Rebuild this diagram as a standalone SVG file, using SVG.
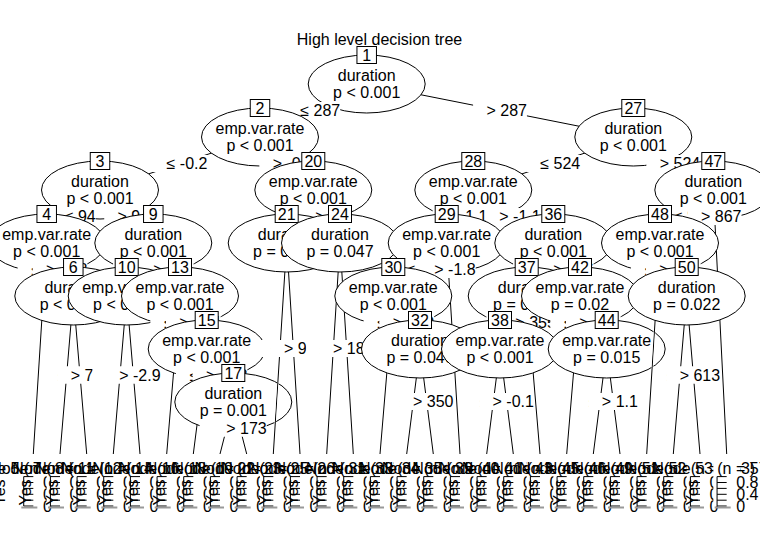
<svg xmlns="http://www.w3.org/2000/svg" xmlns:xlink="http://www.w3.org/1999/xlink" width="760" height="553" viewBox="0 0 760 553">
<style>
text{font-family:"Liberation Sans",Arial,Helvetica,sans-serif;font-size:16px;text-anchor:middle;fill:#000}
.inner ellipse{fill:#fff;stroke:#000;stroke-width:1}
.inner rect{fill:#fff;stroke:#000;stroke-width:1}
#connectors line{stroke:#000;stroke-width:1}
.lab rect{fill:#fff;stroke:none}
.lab text{text-anchor:end}
.rt{text-anchor:start}
.pbg{fill:#fff;stroke:none}
.tk{fill:none;stroke:#000;stroke-width:1}
.gb{fill:none;stroke:#999;stroke-width:2}
.ax{text-anchor:start}
.cut{stroke:#000;stroke-width:1.6}
</style>
<defs>
<g id="panel">
<rect class="pbg" x="-13.33" y="457.4" width="26.67" height="48.6"/>
<path class="tk" d="M-9.6,476.6V506M-9.6,476.6H0M-9.6,482.5H0M-9.6,488.4H0M-9.6,494.3H0M-9.6,500.2H0M-9.6,506H0"/>
<path class="gb" d="M-12,507.5H4"/>
<text class="ax" x="9.6" y="488.2">0.8</text>
<text class="ax" x="9.6" y="500">0.4</text>
<text class="ax" x="9.6" y="511.7">0</text>
<text class="rt" transform="translate(-28.7,505.5) rotate(-90)">Yes</text>
</g>
<mask id="m17" maskUnits="userSpaceOnUse" x="0" y="0" width="760" height="553"><rect width="760" height="553" fill="#fff"/><line class="cut" x1="286.7" y1="243" x2="273.3" y2="454"/></mask>
<mask id="m44" maskUnits="userSpaceOnUse" x="0" y="0" width="760" height="553"><rect width="760" height="553" fill="#fff"/><line class="cut" x1="660" y1="243" x2="646.7" y2="454"/></mask>
</defs>
<rect width="760" height="553" fill="#fff"/>
<text id="title" x="379.5" y="45">High level decision tree</text>
<g id="connectors">
<line x1="366.7" y1="84" x2="260" y2="137"/>
<line x1="366.7" y1="84" x2="633.3" y2="137"/>
<line x1="260" y1="137" x2="100" y2="190"/>
<line x1="260" y1="137" x2="313.3" y2="190"/>
<line x1="100" y1="190" x2="46.7" y2="243"/>
<line x1="100" y1="190" x2="153.3" y2="243"/>
<line x1="46.7" y1="243" x2="33.3" y2="454"/>
<line x1="46.7" y1="243" x2="73.3" y2="296"/>
<line x1="73.3" y1="296" x2="60" y2="454"/>
<line x1="73.3" y1="296" x2="86.7" y2="454"/>
<line x1="153.3" y1="243" x2="126.7" y2="296"/>
<line x1="153.3" y1="243" x2="180" y2="296"/>
<line x1="126.7" y1="296" x2="113.3" y2="454"/>
<line x1="126.7" y1="296" x2="140" y2="454"/>
<line x1="180" y1="296" x2="166.7" y2="454"/>
<line x1="180" y1="296" x2="206.7" y2="349"/>
<line x1="206.7" y1="349" x2="193.3" y2="454"/>
<line x1="206.7" y1="349" x2="233.3" y2="402"/>
<line x1="233.3" y1="402" x2="220" y2="454"/>
<line x1="233.3" y1="402" x2="246.7" y2="454"/>
<line x1="313.3" y1="190" x2="286.7" y2="243"/>
<line x1="313.3" y1="190" x2="340" y2="243"/>
<line x1="286.7" y1="243" x2="273.3" y2="454"/>
<line x1="286.7" y1="243" x2="300" y2="454"/>
<line x1="340" y1="243" x2="326.7" y2="454"/>
<line x1="340" y1="243" x2="353.3" y2="454"/>
<line x1="633.3" y1="137" x2="473.3" y2="190"/>
<line x1="633.3" y1="137" x2="713.3" y2="190"/>
<line x1="473.3" y1="190" x2="446.7" y2="243"/>
<line x1="473.3" y1="190" x2="553.3" y2="243"/>
<line x1="446.7" y1="243" x2="393.3" y2="296"/>
<line x1="446.7" y1="243" x2="460" y2="454"/>
<line x1="393.3" y1="296" x2="380" y2="454"/>
<line x1="393.3" y1="296" x2="420" y2="349"/>
<line x1="420" y1="349" x2="406.7" y2="454"/>
<line x1="420" y1="349" x2="433.3" y2="454"/>
<line x1="553.3" y1="243" x2="526.7" y2="296"/>
<line x1="553.3" y1="243" x2="580" y2="296"/>
<line x1="526.7" y1="296" x2="500" y2="349"/>
<line x1="526.7" y1="296" x2="540" y2="454"/>
<line x1="500" y1="349" x2="486.7" y2="454"/>
<line x1="500" y1="349" x2="513.3" y2="454"/>
<line x1="580" y1="296" x2="566.7" y2="454"/>
<line x1="580" y1="296" x2="606.7" y2="349"/>
<line x1="606.7" y1="349" x2="593.3" y2="454"/>
<line x1="606.7" y1="349" x2="620" y2="454"/>
<line x1="713.3" y1="190" x2="660" y2="243"/>
<line x1="713.3" y1="190" x2="726.7" y2="454"/>
<line x1="660" y1="243" x2="646.7" y2="454"/>
<line x1="660" y1="243" x2="686.7" y2="296"/>
<line x1="686.7" y1="296" x2="673.3" y2="454"/>
<line x1="686.7" y1="296" x2="700" y2="454"/>
</g>

<g id="node1" class="inner"><ellipse cx="366.7" cy="84" rx="58.5" ry="29"/><text x="366.7" y="81">duration</text><text x="366.7" y="97.5">p &lt; 0.001</text><rect x="356.95" y="46.5" width="19.5" height="17"/><text x="366.7" y="60.7">1</text></g>
<g class="lab"><rect x="286.38" y="102" width="53.85" height="17"/><text x="340.23" y="116">≤ 287</text></g>
<g class="lab"><rect x="473.08" y="102" width="53.85" height="17"/><text x="526.93" y="116">&gt; 287</text></g>
<g id="node2" class="inner"><ellipse cx="260" cy="137" rx="58.5" ry="29"/><text x="260" y="134">emp.var.rate</text><text x="260" y="150.5">p &lt; 0.001</text><rect x="250.25" y="99.5" width="19.5" height="17"/><text x="260" y="113.7">2</text></g>
<g class="lab"><rect x="152.63" y="155" width="54.75" height="17"/><text x="207.38" y="169">≤ -0.2</text></g>
<g class="lab"><rect x="259.33" y="155" width="54.75" height="17"/><text x="314.08" y="169">&gt; -0.2</text></g>
<g id="node3" class="inner"><ellipse cx="100" cy="190" rx="58.5" ry="29"/><text x="100" y="187">duration</text><text x="100" y="203.5">p &lt; 0.001</text><rect x="90.25" y="152.5" width="19.5" height="17"/><text x="100" y="166.7">3</text></g>
<g class="lab"><rect x="50.83" y="208" width="44.95" height="17"/><text x="95.78" y="222">≤ 94</text></g>
<g class="lab"><rect x="104.23" y="208" width="44.95" height="17"/><text x="149.18" y="222">&gt; 94</text></g>
<g id="node4" class="inner"><ellipse cx="46.7" cy="243" rx="58.5" ry="29"/><text x="46.7" y="240">emp.var.rate</text><text x="46.7" y="256.5">p &lt; 0.001</text><rect x="36.95" y="205.5" width="19.5" height="17"/><text x="46.7" y="219.7">4</text></g>
<g class="lab"><rect x="17.63" y="261" width="54.75" height="17"/><text x="72.38" y="275">≤ -1.8</text></g>
<g class="lab"><rect x="32.63" y="261" width="54.75" height="17"/><text x="87.38" y="275">&gt; -1.8</text></g>
<g id="node5" class="leaf"><use xlink:href="#panel" x="33.33"/><text x="23.73" y="474">Node 5 (n = 97)</text></g>
<g id="node6" class="inner"><ellipse cx="73.3" cy="296" rx="58.5" ry="29"/><text x="73.3" y="293">duration</text><text x="73.3" y="309.5">p &lt; 0.001</text><rect x="63.55" y="258.5" width="19.5" height="17"/><text x="73.3" y="272.7">6</text></g>
<g class="lab"><rect x="44.03" y="366.5" width="44.95" height="17"/><text x="88.98" y="380.5">≤ 76</text></g>
<g class="lab"><rect x="57.33" y="366.5" width="44.95" height="17"/><text x="102.28" y="380.5">&gt; 76</text></g>
<g id="node7" class="leaf"><use xlink:href="#panel" x="60"/><text x="50.4" y="474">Node 7 (n = 396)</text></g>
<g id="node8" class="leaf"><use xlink:href="#panel" x="86.67"/><text x="77.07" y="474">Node 8 (n = 1210)</text></g>
<g id="node9" class="inner"><ellipse cx="153.3" cy="243" rx="58.5" ry="29"/><text x="153.3" y="240">duration</text><text x="153.3" y="256.5">p &lt; 0.001</text><rect x="143.55" y="205.5" width="19.5" height="17"/><text x="153.3" y="219.7">9</text></g>
<g class="lab"><rect x="113.08" y="261" width="53.85" height="17"/><text x="166.93" y="275">≤ 141</text></g>
<g class="lab"><rect x="139.78" y="261" width="53.85" height="17"/><text x="193.63" y="275">&gt; 141</text></g>
<g id="node10" class="inner"><ellipse cx="126.7" cy="296" rx="58.5" ry="29"/><text x="126.7" y="293">emp.var.rate</text><text x="126.7" y="309.5">p &lt; 0.001</text><rect x="115.2" y="258.5" width="23" height="17"/><text x="126.7" y="272.7">10</text></g>
<g class="lab"><rect x="92.53" y="366.5" width="54.75" height="17"/><text x="147.28" y="380.5">≤ -2.9</text></g>
<g class="lab"><rect x="105.83" y="366.5" width="54.75" height="17"/><text x="160.58" y="380.5">&gt; -2.9</text></g>
<g id="node11" class="leaf"><use xlink:href="#panel" x="113.33"/><text x="103.73" y="474">Node 11 (n = 1562)</text></g>
<g id="node12" class="leaf"><use xlink:href="#panel" x="140"/><text x="130.4" y="474">Node 12 (n = 2010)</text></g>
<g id="node13" class="inner"><ellipse cx="180" cy="296" rx="58.5" ry="29"/><text x="180" y="293">emp.var.rate</text><text x="180" y="309.5">p &lt; 0.001</text><rect x="168.5" y="258.5" width="23" height="17"/><text x="180" y="272.7">13</text></g>
<g class="lab"><rect x="150.33" y="314" width="54.75" height="17"/><text x="205.08" y="328">≤ -3.4</text></g>
<g class="lab"><rect x="165.93" y="314" width="54.75" height="17"/><text x="220.68" y="328">&gt; -3.4</text></g>
<g id="node14" class="leaf"><use xlink:href="#panel" x="166.67"/><text x="157.07" y="474">Node 14 (n = 689)</text></g>
<g id="node15" class="inner"><ellipse cx="206.7" cy="349" rx="58.5" ry="29"/><text x="206.7" y="346">emp.var.rate</text><text x="206.7" y="362.5">p &lt; 0.001</text><rect x="195.2" y="311.5" width="23" height="17"/><text x="206.7" y="325.7">15</text></g>
<g class="lab"><rect x="175.83" y="367" width="54.75" height="17"/><text x="230.58" y="381">≤ -1.8</text></g>
<g class="lab"><rect x="192.63" y="367" width="54.75" height="17"/><text x="247.38" y="381">&gt; -1.8</text></g>
<g id="node16" class="leaf"><use xlink:href="#panel" x="193.33"/><text x="183.73" y="474">Node 16 (n = 431)</text></g>
<g id="node17" class="inner"><ellipse cx="233.3" cy="402" rx="58.5" ry="29" mask="url(#m17)"/><text x="233.3" y="399">duration</text><text x="233.3" y="415.5">p = 0.001</text><rect x="221.8" y="364.5" width="23" height="17"/><text x="233.3" y="378.7">17</text></g>
<g class="lab"><rect x="199.58" y="419.5" width="53.85" height="17"/><text x="253.43" y="433.5">≤ 173</text></g>
<g class="lab"><rect x="212.88" y="419.5" width="53.85" height="17"/><text x="266.73" y="433.5">&gt; 173</text></g>
<g id="node18" class="leaf"><use xlink:href="#panel" x="220"/><text x="210.4" y="474">Node 18 (n = 255)</text></g>
<g id="node19" class="leaf"><use xlink:href="#panel" x="246.67"/><text x="237.07" y="474">Node 19 (n = 547)</text></g>
<g id="node20" class="inner"><ellipse cx="313.3" cy="190" rx="58.5" ry="29"/><text x="313.3" y="187">emp.var.rate</text><text x="313.3" y="203.5">p &lt; 0.001</text><rect x="301.8" y="152.5" width="23" height="17"/><text x="313.3" y="166.7">20</text></g>
<g class="lab"><rect x="275.33" y="208" width="49.35" height="17"/><text x="324.68" y="222">≤ 1.1</text></g>
<g class="lab"><rect x="302.03" y="208" width="49.35" height="17"/><text x="351.38" y="222">&gt; 1.1</text></g>
<g id="node21" class="inner"><ellipse cx="286.7" cy="243" rx="58.5" ry="29"/><text x="286.7" y="240">duration</text><text x="286.7" y="256.5">p = 0.007</text><rect x="275.2" y="205.5" width="23" height="17"/><text x="286.7" y="219.7">21</text></g>
<g class="lab"><rect x="257.43" y="340" width="44.95" height="17"/><text x="302.38" y="354">≤ 96</text></g>
<g class="lab"><rect x="270.73" y="340" width="44.95" height="17"/><text x="315.68" y="354">&gt; 96</text></g>
<g id="node22" class="leaf"><use xlink:href="#panel" x="273.33"/><text x="263.73" y="474">Node 22 (n = 2305)</text></g>
<g id="node23" class="leaf"><use xlink:href="#panel" x="300"/><text x="290.4" y="474">Node 23 (n = 3467)</text></g>
<g id="node24" class="inner"><ellipse cx="340" cy="243" rx="58.5" ry="29"/><text x="340" y="240">duration</text><text x="340" y="256.5">p = 0.047</text><rect x="328.5" y="205.5" width="23" height="17"/><text x="340" y="219.7">24</text></g>
<g class="lab"><rect x="306.28" y="340" width="53.85" height="17"/><text x="360.13" y="354">≤ 183</text></g>
<g class="lab"><rect x="319.58" y="340" width="53.85" height="17"/><text x="373.43" y="354">&gt; 183</text></g>
<g id="node25" class="leaf"><use xlink:href="#panel" x="326.67"/><text x="317.07" y="474">Node 25 (n = 1789)</text></g>
<g id="node26" class="leaf"><use xlink:href="#panel" x="353.33"/><text x="343.73" y="474">Node 26 (n = 1014)</text></g>
<g id="node27" class="inner"><ellipse cx="633.3" cy="137" rx="58.5" ry="29"/><text x="633.3" y="134">duration</text><text x="633.3" y="150.5">p &lt; 0.001</text><rect x="621.8" y="99.5" width="23" height="17"/><text x="633.3" y="113.7">27</text></g>
<g class="lab"><rect x="526.38" y="155" width="53.85" height="17"/><text x="580.23" y="169">≤ 524</text></g>
<g class="lab"><rect x="646.38" y="155" width="53.85" height="17"/><text x="700.23" y="169">&gt; 524</text></g>
<g id="node28" class="inner"><ellipse cx="473.3" cy="190" rx="58.5" ry="29"/><text x="473.3" y="187">emp.var.rate</text><text x="473.3" y="203.5">p &lt; 0.001</text><rect x="461.8" y="152.5" width="23" height="17"/><text x="473.3" y="166.7">28</text></g>
<g class="lab"><rect x="432.63" y="208" width="54.75" height="17"/><text x="487.38" y="222">≤ -1.1</text></g>
<g class="lab"><rect x="485.93" y="208" width="54.75" height="17"/><text x="540.68" y="222">&gt; -1.1</text></g>
<g id="node29" class="inner"><ellipse cx="446.7" cy="243" rx="58.5" ry="29"/><text x="446.7" y="240">emp.var.rate</text><text x="446.7" y="256.5">p &lt; 0.001</text><rect x="435.2" y="205.5" width="23" height="17"/><text x="446.7" y="219.7">29</text></g>
<g class="lab"><rect x="392.63" y="261" width="54.75" height="17"/><text x="447.38" y="275">≤ -1.8</text></g>
<g class="lab"><rect x="420.93" y="261" width="54.75" height="17"/><text x="475.68" y="275">&gt; -1.8</text></g>
<g id="node30" class="inner"><ellipse cx="393.3" cy="296" rx="58.5" ry="29"/><text x="393.3" y="293">emp.var.rate</text><text x="393.3" y="309.5">p &lt; 0.001</text><rect x="381.8" y="258.5" width="23" height="17"/><text x="393.3" y="272.7">30</text></g>
<g class="lab"><rect x="363.63" y="314" width="54.75" height="17"/><text x="418.38" y="328">≤ -2.9</text></g>
<g class="lab"><rect x="379.33" y="314" width="54.75" height="17"/><text x="434.08" y="328">&gt; -2.9</text></g>
<g id="node31" class="leaf"><use xlink:href="#panel" x="380"/><text x="370.4" y="474">Node 31 (n = 321)</text></g>
<g id="node32" class="inner"><ellipse cx="420" cy="349" rx="58.5" ry="29"/><text x="420" y="346">duration</text><text x="420" y="362.5">p = 0.046</text><rect x="408.5" y="311.5" width="23" height="17"/><text x="420" y="325.7">32</text></g>
<g class="lab"><rect x="386.28" y="393" width="53.85" height="17"/><text x="440.13" y="407">≤ 350</text></g>
<g class="lab"><rect x="399.58" y="393" width="53.85" height="17"/><text x="453.43" y="407">&gt; 350</text></g>
<g id="node33" class="leaf"><use xlink:href="#panel" x="406.67"/><text x="397.07" y="474">Node 33 (n = 108)</text></g>
<g id="node34" class="leaf"><use xlink:href="#panel" x="433.33"/><text x="423.73" y="474">Node 34 (n = 152)</text></g>
<g id="node35" class="leaf"><use xlink:href="#panel" x="460"/><text x="450.4" y="474">Node 35 (n = 1187)</text></g>
<g id="node36" class="inner"><ellipse cx="553.3" cy="243" rx="58.5" ry="29"/><text x="553.3" y="240">duration</text><text x="553.3" y="256.5">p &lt; 0.001</text><rect x="541.8" y="205.5" width="23" height="17"/><text x="553.3" y="219.7">36</text></g>
<g class="lab"><rect x="513.08" y="261" width="53.85" height="17"/><text x="566.93" y="275">≤ 416</text></g>
<g class="lab"><rect x="539.78" y="261" width="53.85" height="17"/><text x="593.63" y="275">&gt; 416</text></g>
<g id="node37" class="inner"><ellipse cx="526.7" cy="296" rx="58.5" ry="29"/><text x="526.7" y="293">duration</text><text x="526.7" y="309.5">p = 0.003</text><rect x="515.2" y="258.5" width="23" height="17"/><text x="526.7" y="272.7">37</text></g>
<g class="lab"><rect x="486.38" y="314" width="53.85" height="17"/><text x="540.23" y="328">≤ 355</text></g>
<g class="lab"><rect x="501.98" y="314" width="53.85" height="17"/><text x="555.83" y="328">&gt; 355</text></g>
<g id="node38" class="inner"><ellipse cx="500" cy="349" rx="58.5" ry="29"/><text x="500" y="346">emp.var.rate</text><text x="500" y="362.5">p &lt; 0.001</text><rect x="488.5" y="311.5" width="23" height="17"/><text x="500" y="325.7">38</text></g>
<g class="lab"><rect x="465.83" y="393" width="54.75" height="17"/><text x="520.58" y="407">≤ -0.1</text></g>
<g class="lab"><rect x="479.13" y="393" width="54.75" height="17"/><text x="533.88" y="407">&gt; -0.1</text></g>
<g id="node39" class="leaf"><use xlink:href="#panel" x="486.67"/><text x="477.07" y="474">Node 39 (n = 278)</text></g>
<g id="node40" class="leaf"><use xlink:href="#panel" x="513.33"/><text x="503.73" y="474">Node 40 (n = 843)</text></g>
<g id="node41" class="leaf"><use xlink:href="#panel" x="540"/><text x="530.4" y="474">Node 41 (n = 1139)</text></g>
<g id="node42" class="inner"><ellipse cx="580" cy="296" rx="58.5" ry="29"/><text x="580" y="293">emp.var.rate</text><text x="580" y="309.5">p = 0.02</text><rect x="568.5" y="258.5" width="23" height="17"/><text x="580" y="272.7">42</text></g>
<g class="lab"><rect x="550.33" y="314" width="54.75" height="17"/><text x="605.08" y="328">≤ -0.1</text></g>
<g class="lab"><rect x="565.93" y="314" width="54.75" height="17"/><text x="620.68" y="328">&gt; -0.1</text></g>
<g id="node43" class="leaf"><use xlink:href="#panel" x="566.67"/><text x="557.07" y="474">Node 43 (n = 412)</text></g>
<g id="node44" class="inner"><ellipse cx="606.7" cy="349" rx="58.5" ry="29" mask="url(#m44)"/><text x="606.7" y="346">emp.var.rate</text><text x="606.7" y="362.5">p = 0.015</text><rect x="595.2" y="311.5" width="23" height="17"/><text x="606.7" y="325.7">44</text></g>
<g class="lab"><rect x="575.13" y="393" width="49.35" height="17"/><text x="624.48" y="407">≤ 1.1</text></g>
<g class="lab"><rect x="588.53" y="393" width="49.35" height="17"/><text x="637.88" y="407">&gt; 1.1</text></g>
<g id="node45" class="leaf"><use xlink:href="#panel" x="593.33"/><text x="583.73" y="474">Node 45 (n = 195)</text></g>
<g id="node46" class="leaf"><use xlink:href="#panel" x="620"/><text x="610.4" y="474">Node 46 (n = 518)</text></g>
<g id="node47" class="inner"><ellipse cx="713.3" cy="190" rx="58.5" ry="29"/><text x="713.3" y="187">duration</text><text x="713.3" y="203.5">p &lt; 0.001</text><rect x="701.8" y="152.5" width="23" height="17"/><text x="713.3" y="166.7">47</text></g>
<g class="lab"><rect x="659.78" y="208" width="53.85" height="17"/><text x="713.63" y="222">≤ 867</text></g>
<g class="lab"><rect x="687.68" y="208" width="53.85" height="17"/><text x="741.53" y="222">&gt; 867</text></g>
<g id="node48" class="inner"><ellipse cx="660" cy="243" rx="58.5" ry="29"/><text x="660" y="240">emp.var.rate</text><text x="660" y="256.5">p &lt; 0.001</text><rect x="648.5" y="205.5" width="23" height="17"/><text x="660" y="219.7">48</text></g>
<g class="lab"><rect x="630.93" y="261" width="54.75" height="17"/><text x="685.68" y="275">≤ -1.1</text></g>
<g class="lab"><rect x="645.93" y="261" width="54.75" height="17"/><text x="700.68" y="275">&gt; -1.1</text></g>
<g id="node49" class="leaf"><use xlink:href="#panel" x="646.67"/><text x="637.07" y="474">Node 49 (n = 297)</text></g>
<g id="node50" class="inner"><ellipse cx="686.7" cy="296" rx="58.5" ry="29"/><text x="686.7" y="293">duration</text><text x="686.7" y="309.5">p = 0.022</text><rect x="675.2" y="258.5" width="23" height="17"/><text x="686.7" y="272.7">50</text></g>
<g class="lab"><rect x="652.98" y="366.5" width="53.85" height="17"/><text x="706.83" y="380.5">≤ 613</text></g>
<g class="lab"><rect x="666.28" y="366.5" width="53.85" height="17"/><text x="720.13" y="380.5">&gt; 613</text></g>
<g id="node51" class="leaf"><use xlink:href="#panel" x="673.33"/><text x="663.73" y="474">Node 51 (n = 236)</text></g>
<g id="node52" class="leaf"><use xlink:href="#panel" x="700"/><text x="690.4" y="474">Node 52 (n = 163)</text></g>
<g id="node53" class="leaf"><use xlink:href="#panel" x="726.67"/><text x="717.07" y="474">Node 53 (n = 571)</text></g>
</svg>
